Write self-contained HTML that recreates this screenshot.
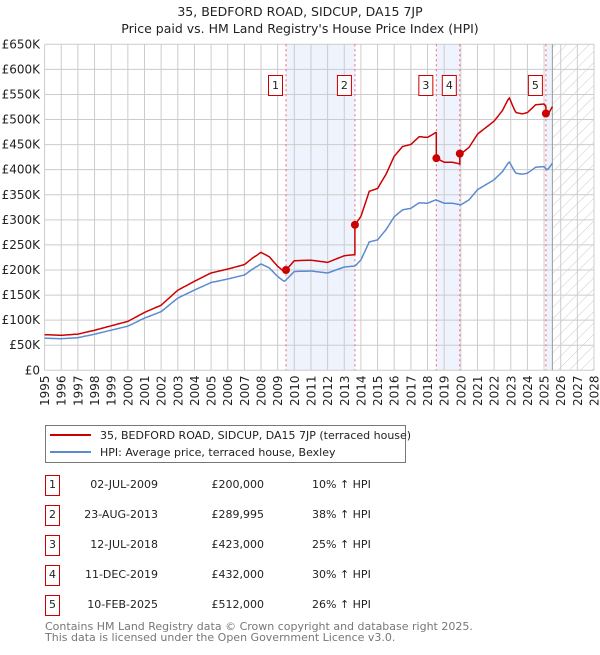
<!DOCTYPE html>
<html><head><meta charset="utf-8"><style>
body{margin:0;background:#fff;}
svg text{font-family:"DejaVu Sans","Liberation Sans",sans-serif;}
</style></head><body>
<svg id="chart" width="600" height="650" xmlns="http://www.w3.org/2000/svg">
<text x="300" y="16" text-anchor="middle" font-size="12.5" fill="#222">35, BEDFORD ROAD, SIDCUP, DA15 7JP</text>
<text x="300" y="33" text-anchor="middle" font-size="12.5" fill="#222">Price paid vs. HM Land Registry's House Price Index (HPI)</text>
<g id="plot"></g>
<g>
<rect x="45.5" y="425.5" width="360" height="37" fill="#fff" stroke="#777"/>
<line x1="50" y1="435" x2="91" y2="435" stroke="#cc0000" stroke-width="2"/>
<text x="100" y="439" font-size="11" fill="#222">35, BEDFORD ROAD, SIDCUP, DA15 7JP (terraced house)</text>
<line x1="50" y1="452" x2="91" y2="452" stroke="#5b8bd0" stroke-width="2"/>
<text x="100" y="456" font-size="11" fill="#222">HPI: Average price, terraced house, Bexley</text>
</g>
<g id="table"></g>
<text x="45" y="630" font-size="11" fill="#777">Contains HM Land Registry data © Crown copyright and database right 2025.</text>
<text x="45" y="641" font-size="11" fill="#777">This data is licensed under the Open Government Licence v3.0.</text>
</svg>
<script>
const hpiYears=[1995,1996,1997,1998,1999,2000,2001,2002,2003,2004,2005,2006,2007,2007.5,2008,2008.5,2009,2009.4,2010,2011,2012,2013,2013.65,2014,2014.5,2015,2015.5,2016,2016.5,2017,2017.5,2018,2018.5,2019,2019.5,2020,2020.5,2021,2021.5,2022,2022.5,2022.9,2023.3,2023.7,2024,2024.5,2025,2025.2,2025.5];
const hpiValues=[64,63,65,72,80,88,104,117,144,160,175,182,190,202,212,204,187,177,197,198,194,206,208,220,256,260,280,306,320,323,334,333,340,333,333,330,340,360,370,380,396,416,393,391,393,405,406,399,413];
const saleDates=[2009.5,2013.64,2018.53,2019.94,2025.11];
const salePrices=[200,289.995,423,432,512];
const saleLabels=["02-JUL-2009","23-AUG-2013","12-JUL-2018","11-DEC-2019","10-FEB-2025"];
const salePriceText=["£200,000","£289,995","£423,000","£432,000","£512,000"];
const saleHpiText=["10% ↑ HPI","38% ↑ HPI","25% ↑ HPI","30% ↑ HPI","26% ↑ HPI"];
const yTicks=[0,50,100,150,200,250,300,350,400,450,500,550,600,650];
const yTickLabels=["£0","£50K","£100K","£150K","£200K","£250K","£300K","£350K","£400K","£450K","£500K","£550K","£600K","£650K"];
const xTicks=[1995,1996,1997,1998,1999,2000,2001,2002,2003,2004,2005,2006,2007,2008,2009,2010,2011,2012,2013,2014,2015,2016,2017,2018,2019,2020,2021,2022,2023,2024,2025,2026,2027,2028];

const NS="http://www.w3.org/2000/svg";
const X0=44.6,X1=594,Y0=370.3,Y1=44.3;
const xs=t=>X0+(t-1995)*(X1-X0)/33;
const ys=v=>Y0-v*(Y0-Y1)/650;
function mk(tag,attrs,parent){const e=document.createElementNS(NS,tag);for(const k in attrs)e.setAttribute(k,attrs[k]);parent.appendChild(e);return e;}
function hpiAt(t){for(let i=0;i<hpiYears.length-1;i++){if(t<=hpiYears[i+1]){const f=(t-hpiYears[i])/(hpiYears[i+1]-hpiYears[i]);return hpiValues[i]+f*(hpiValues[i+1]-hpiValues[i]);}}return hpiValues[hpiValues.length-1];}
const plot=document.getElementById('plot');
// shaded bands
const bands=[[0,1],[2,3],[4,null]];
bands.forEach((b,i)=>{const a=xs(saleDates[b[0]]);const e=b[1]===null?xs(2025.5):xs(saleDates[b[1]]);
const r=mk('rect',{x:a,y:Y1,width:e-a,height:Y0-Y1,fill:'#eef3fd'},plot);

});
// hatch
const defs=mk('defs',{},plot);
const pat=mk('pattern',{id:'hatch',width:8,height:8,patternUnits:'userSpaceOnUse',patternTransform:'rotate(45)'},defs);
mk('line',{x1:0,y1:0,x2:0,y2:8,stroke:'#ccc','stroke-width':1},pat);
const h=mk('rect',{x:xs(2025.5),y:Y1,width:X1-xs(2025.5),height:Y0-Y1,fill:'url(#hatch)'},plot);


// grid
yTicks.forEach((v,i)=>{const l=mk('line',{x1:X0,x2:X1,y1:ys(v),y2:ys(v),stroke:'#ccc'},plot);


const t=mk('text',{x:40,y:ys(v)+4,'text-anchor':'end','font-size':12,fill:'#222'},plot);t.textContent=yTickLabels[i];

});
xTicks.forEach(yr=>{const l=mk('line',{x1:xs(yr),x2:xs(yr),y1:Y1,y2:Y0,stroke:'#ccc'},plot);


const t=mk('text',{x:0,y:0,transform:`translate(${xs(yr)+4.5},406) rotate(-90)`,'font-size':12,fill:'#222'},plot);t.textContent=yr;

});
const nl=mk('line',{x1:xs(2025.5),x2:xs(2025.5),y1:Y1,y2:Y0,stroke:'#999'},plot);


// sale vlines & labels
saleDates.forEach((d,i)=>{const l=mk('line',{x1:xs(d),x2:xs(d),y1:Y1,y2:Y0,stroke:'#f06070','stroke-dasharray':'2,3'},plot);


const g=mk('g',{},plot);


mk('rect',{x:xs(d)-17.5,y:75.5,width:14,height:20,fill:'#fff',stroke:'#cc0000'},g);
const t=mk('text',{x:xs(d)-10.5,y:89,'text-anchor':'middle','font-size':11,fill:'#222'},g);t.textContent=i+1;});
// hpi line
let hp='';for(let t=1995;t<=2025.5001;t+=1/12){hp+=(hp?'L':'M')+xs(t).toFixed(1)+','+ys(hpiAt(t)).toFixed(1);}
const hl=mk('path',{d:hp,fill:'none',stroke:'#5b8bd0','stroke-width':1.5},plot);


// property line
function redAt(t){let k=0;for(let i=0;i<saleDates.length;i++)if(t>=saleDates[i])k=i;return salePrices[k]*hpiAt(t)/hpiAt(saleDates[k]);}
let rp='';const ts=[];for(let t=1995;t<=2025.5001;t+=1/12)ts.push(t);saleDates.forEach(d=>{ts.push(d-0.0001);ts.push(d);});ts.sort((a,b)=>a-b);
ts.forEach(t=>{rp+=(rp?'L':'M')+xs(t).toFixed(1)+','+ys(redAt(t)).toFixed(1);});
const rl=mk('path',{d:rp,fill:'none',stroke:'#cc0000','stroke-width':1.5},plot);


saleDates.forEach((d,i)=>{const c=mk('circle',{cx:xs(d),cy:ys(salePrices[i]),r:4,fill:'#cc0000'},plot);

});
// table
const tb=document.getElementById('table');
saleLabels.forEach((s,i)=>{const y=475+i*30;const g=mk('g',{},tb);


mk('rect',{x:45.5,y:y+0.5,width:14,height:20,fill:'#fff',stroke:'#cc0000'},g);
let t=mk('text',{x:52.5,y:y+13,'text-anchor':'middle','font-size':11,fill:'#222'},g);t.textContent=i+1;
t=mk('text',{x:158,y:y+13,'text-anchor':'end','font-size':11,fill:'#222'},g);t.textContent=s;
t=mk('text',{x:264,y:y+13,'text-anchor':'end','font-size':11,fill:'#222'},g);t.textContent=salePriceText[i];
t=mk('text',{x:312,y:y+13,'font-size':11,fill:'#222'},g);t.textContent=saleHpiText[i];});
</script>
</body></html>
